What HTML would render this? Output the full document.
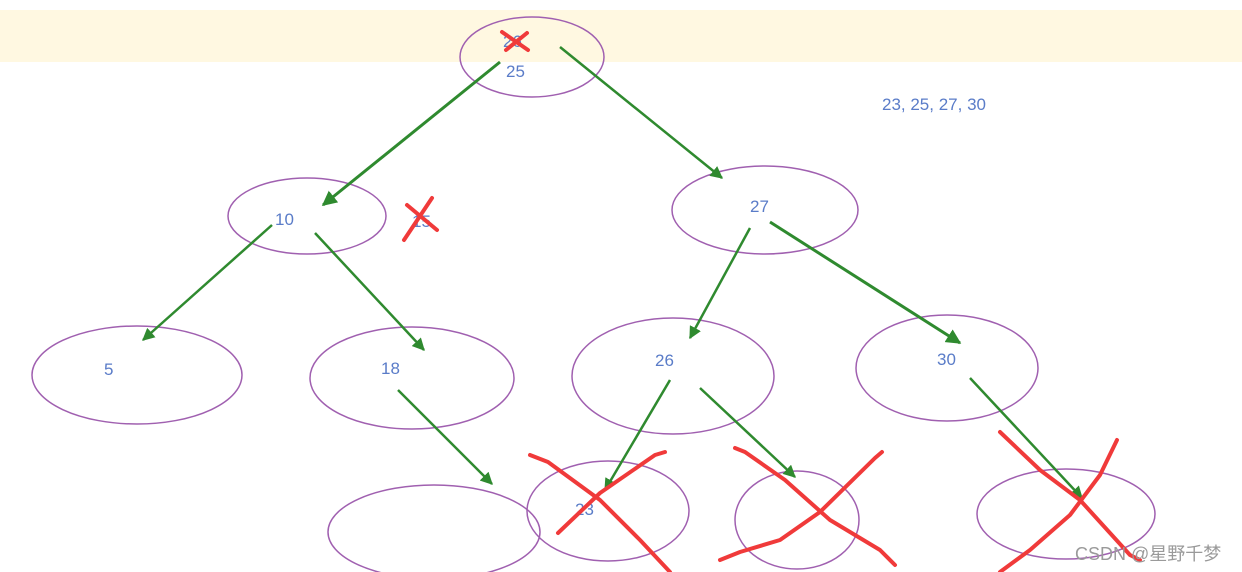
<!DOCTYPE html>
<html><head><meta charset="utf-8"><style>
html,body{margin:0;padding:0;background:#fff;}
svg{display:block;}
text{font-family:"Liberation Sans","Noto Sans CJK SC",sans-serif;}
</style></head><body>
<svg width="1242" height="572" viewBox="0 0 1242 572" xmlns="http://www.w3.org/2000/svg">
<defs>
<marker id="a" viewBox="0 0 10 10" refX="9" refY="5" markerWidth="5" markerHeight="5" orient="auto"><path d="M0,0 L10,5 L0,10 z" fill="#2f8a2f"/></marker>
</defs>
<rect x="0" y="10" width="1242" height="52" fill="#fff8e1"/>
<g fill="none" stroke="#a060b0" stroke-width="1.5">
<ellipse cx="532" cy="57" rx="72" ry="40"/>
<ellipse cx="307" cy="216" rx="79" ry="38"/>
<ellipse cx="765" cy="210" rx="93" ry="44"/>
<ellipse cx="137" cy="375" rx="105" ry="49"/>
<ellipse cx="412" cy="378" rx="102" ry="51"/>
<ellipse cx="673" cy="376" rx="101" ry="58"/>
<ellipse cx="947" cy="368" rx="91" ry="53"/>
<ellipse cx="434" cy="532" rx="106" ry="47"/>
<ellipse cx="608" cy="511" rx="81" ry="50"/>
<ellipse cx="797" cy="520" rx="62" ry="49"/>
<ellipse cx="1066" cy="514" rx="89" ry="45"/>
</g>
<g stroke="#2f8a2f" stroke-width="2.5" marker-end="url(#a)" fill="none">
<line x1="500" y1="62" x2="323" y2="205" stroke-width="3"/>
<line x1="560" y1="47" x2="722" y2="178"/>
<line x1="272" y1="225" x2="143" y2="340"/>
<line x1="315" y1="233" x2="424" y2="350"/>
<line x1="750" y1="228" x2="690" y2="338"/>
<line x1="770" y1="222" x2="960" y2="343" stroke-width="3"/>
<line x1="398" y1="390" x2="492" y2="484"/>
<line x1="670" y1="380" x2="605" y2="490"/>
<line x1="700" y1="388" x2="795" y2="477"/>
<line x1="970" y1="378" x2="1082" y2="498"/>
</g>
<g fill="#5a7cc8" font-size="17">
<text x="503" y="47">26</text>
<text x="506" y="77">25</text>
<text x="275" y="225">10</text>
<text x="412" y="227">15</text>
<text x="750" y="212">27</text>
<text x="104" y="375">5</text>
<text x="381" y="374">18</text>
<text x="655" y="366">26</text>
<text x="937" y="365">30</text>
<text x="575" y="515">23</text>
<text x="882" y="110">23, 25, 27, 30</text>
</g>
<g stroke="#f03a3a" stroke-width="4" fill="none" stroke-linecap="round" stroke-linejoin="round">
<line x1="502" y1="32" x2="528" y2="50"/><line x1="527" y1="33" x2="506" y2="50"/>
<line x1="407" y1="205" x2="437" y2="230"/><line x1="432" y1="198" x2="404" y2="240"/>
<path d="M530,455 L548,462 L600,500 L640,540 L670,572"/><path d="M665,452 L655,455 L600,493 L558,533"/>
<path d="M735,448 L745,452 L785,480 L830,520 L880,550 L895,565"/><path d="M882,452 L875,458 L820,512 L780,540 L740,552 L720,560"/>
<path d="M1000,432 L1040,470 L1080,500 L1130,555 L1140,560"/><path d="M1117,440 L1100,475 L1070,515 L1030,550 L1000,572"/>
</g>
<text x="1075" y="560" font-size="18" fill="#9a9a9a">CSDN @星野千梦</text>
</svg>
</body></html>
